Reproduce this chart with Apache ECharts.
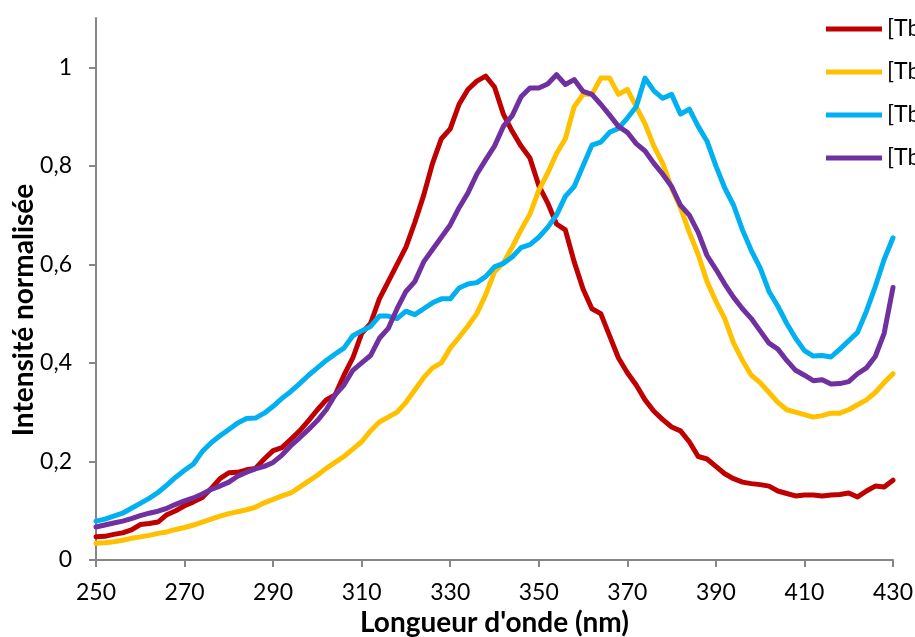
<!DOCTYPE html>
<html>
<head>
<meta charset="utf-8">
<script src="https://cdn.jsdelivr.net/npm/echarts@6/dist/echarts.min.js"></script>
<style>
html,body{margin:0;padding:0;background:#fff;}
#main{width:915px;height:637px;}
</style>
</head>
<body>
<div id="main"></div>
<script>
// Wavelengths (nm), 2 nm step
const wavelengths = [];
for (let w = 250; w <= 430; w += 2) wavelengths.push(w);

const seriesNames = ["[Tb(L1)3]", "[Tb(L2)3]", "[Tb(L3)3]", "[Tb(L4)3]"];
const seriesColors = ["#C00000", "#FFC000", "#00B0F0", "#7030A0"];
const xTitle = "Longueur d'onde (nm)";
const yTitle = "Intensité normalisée";

const redValues = [0.047,0.048,0.052,0.055,0.061,0.072,0.074,0.077,0.092,0.100,
0.110,0.118,0.127,0.145,0.165,0.177,0.178,0.183,0.186,0.205,
0.222,0.228,0.245,0.262,0.283,0.305,0.325,0.335,0.375,0.41,
0.46,0.48,0.53,0.565,0.60,0.635,0.685,0.74,0.805,0.855,
0.875,0.925,0.955,0.972,0.982,0.96,0.905,0.87,0.84,0.816,
0.76,0.725,0.682,0.67,0.605,0.55,0.51,0.50,0.455,0.41,
0.38,0.355,0.325,0.302,0.285,0.27,0.262,0.24,0.21,0.205,
0.19,0.175,0.165,0.158,0.155,0.153,0.15,0.14,0.135,0.13,
0.132,0.132,0.13,0.132,0.133,0.136,0.128,0.14,0.15,0.148,
0.162];

const yellowValues = [0.034,0.035,0.037,0.040,0.044,0.047,0.050,0.054,0.057,0.062,
0.066,0.071,0.077,0.083,0.089,0.094,0.098,0.102,0.107,0.116,
0.123,0.130,0.136,0.148,0.160,0.172,0.186,0.198,0.210,0.225,
0.240,0.262,0.28,0.29,0.30,0.32,0.345,0.37,0.39,0.40,
0.43,0.452,0.475,0.50,0.538,0.585,0.603,0.635,0.67,0.702,
0.75,0.785,0.825,0.855,0.92,0.945,0.945,0.978,0.978,0.945,
0.955,0.92,0.885,0.84,0.805,0.755,0.715,0.665,0.62,0.565,
0.525,0.49,0.44,0.405,0.375,0.36,0.34,0.32,0.305,0.30,
0.295,0.29,0.293,0.298,0.298,0.305,0.315,0.325,0.34,0.36,
0.378];

const blueValues = [0.079,0.083,0.089,0.095,0.105,0.115,0.125,0.137,0.152,0.168,
0.182,0.195,0.22,0.238,0.252,0.265,0.278,0.287,0.288,0.298,
0.312,0.328,0.342,0.358,0.375,0.39,0.405,0.418,0.43,0.455,
0.465,0.474,0.495,0.495,0.49,0.505,0.498,0.51,0.522,0.53,
0.53,0.552,0.56,0.563,0.575,0.595,0.602,0.615,0.634,0.64,
0.655,0.675,0.70,0.738,0.758,0.80,0.842,0.848,0.868,0.876,
0.897,0.92,0.978,0.952,0.937,0.945,0.905,0.915,0.88,0.85,
0.80,0.755,0.72,0.67,0.628,0.593,0.545,0.515,0.48,0.45,
0.425,0.414,0.415,0.412,0.428,0.445,0.462,0.505,0.555,0.61,
0.654];

const purpleValues = [0.067,0.071,0.075,0.079,0.084,0.09,0.095,0.099,0.105,0.113,
0.12,0.126,0.134,0.143,0.15,0.158,0.17,0.178,0.185,0.19,
0.198,0.213,0.232,0.248,0.265,0.283,0.305,0.335,0.355,0.385,
0.40,0.415,0.45,0.47,0.51,0.545,0.565,0.605,0.63,0.655,
0.68,0.715,0.745,0.783,0.812,0.84,0.88,0.902,0.94,0.958,
0.958,0.966,0.985,0.965,0.975,0.951,0.945,0.925,0.903,0.88,
0.868,0.845,0.83,0.805,0.783,0.758,0.72,0.70,0.665,0.618,
0.59,0.56,0.533,0.51,0.49,0.465,0.44,0.428,0.405,0.385,
0.375,0.364,0.366,0.357,0.358,0.362,0.378,0.39,0.413,0.46,
0.553];

const yTickValues = [0, 0.2, 0.4, 0.6, 0.8, 1];
const xTickValues = [250, 270, 290, 310, 330, 350, 370, 390, 410, 430];

const allValues = [redValues, yellowValues, blueValues, purpleValues];
const FONT = "Lato, 'Open Sans', sans-serif";

const chart = echarts.init(document.getElementById('main'), null, {renderer: 'canvas'});
chart.setOption({
  animation: false,
  backgroundColor: '#ffffff',
  grid: {left: 96, right: 22, top: 18, bottom: 77, containLabel: false, outerBoundsMode: 'none'},
  graphic: [{
    type: 'text',
    x: 24, y: 310,
    rotation: Math.PI / 2,
    style: {
      text: yTitle,
      fontFamily: FONT, fontSize: 28, fontWeight: 'bold', fill: '#000',
      align: 'center', verticalAlign: 'middle'
    }
  }],
  legend: {
    orient: 'vertical',
    left: 821,
    top: 11,
    icon: 'rect',
    itemWidth: 56,
    itemHeight: 5,
    itemGap: 17,
    textStyle: {fontFamily: FONT, fontSize: 23, color: '#000', lineHeight: 26},
    data: seriesNames
  },
  xAxis: {
    type: 'value',
    min: 250, max: 430, interval: 20,
    name: xTitle,
    nameLocation: 'middle',
    nameGap: 49,
    nameTextStyle: {fontFamily: FONT, fontSize: 28, fontWeight: 'bold', color: '#000'},
    axisLine: {show: true, lineStyle: {color: '#868686', width: 2}},
    axisTick: {show: true, length: 7, lineStyle: {color: '#868686', width: 2}, customValues: xTickValues},
    axisLabel: {fontFamily: FONT, fontSize: 23, color: '#000', margin: 21, customValues: xTickValues},
    splitLine: {show: false}
  },
  yAxis: {
    type: 'value',
    min: 0, max: 1.1,
    axisLine: {show: true, lineStyle: {color: '#868686', width: 2}},
    axisTick: {show: true, length: 7, lineStyle: {color: '#868686', width: 2}, customValues: yTickValues},
    axisLabel: {
      fontFamily: FONT, fontSize: 23, color: '#000', margin: 24,
      customValues: yTickValues,
      formatter: v => String(Math.round(v * 10) / 10).replace('.', ',')
    },
    splitLine: {show: false}
  },
  series: seriesNames.map((name, i) => ({
    name: name,
    type: 'line',
    data: wavelengths.map((w, j) => [w, allValues[i][j]]),
    showSymbol: false,
    symbol: 'none',
    smooth: false,
    lineStyle: {color: seriesColors[i], width: 5, cap: 'round', join: 'round'},
    itemStyle: {color: seriesColors[i]},
    z: 2 + i
  }))
});
</script>
</body>
</html>
